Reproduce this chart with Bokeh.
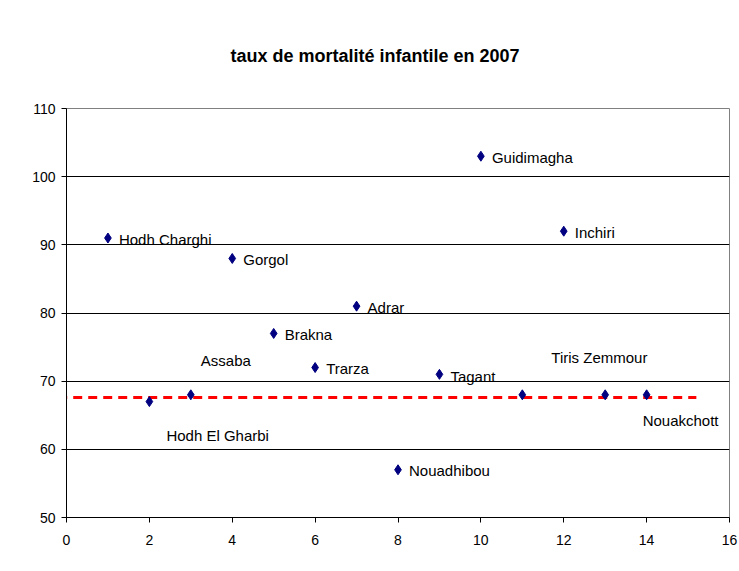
from bokeh.plotting import figure
from bokeh.models import ColumnDataSource, Range1d, FixedTicker
from bokeh.embed import file_html
from bokeh.resources import INLINE

# ---- data ----
region_index = [1, 2, 3, 4, 5, 6, 7, 8, 9, 10, 11, 12, 13, 14]
mortality = [91, 67, 68, 88, 77, 72, 81, 57, 71, 103, 68, 92, 68, 68]
region_names = ["Hodh Charghi", "Hodh El Gharbi", "Assaba", "Gorgol", "Brakna",
                "Trarza", "Adrar", "Nouadhibou", "Tagant", "Guidimagha",
                "Tiris Zemmour", "Inchiri", "", "Nouakchott"]
average_rate = 67.6
x_ticks = [0, 2, 4, 6, 8, 10, 12, 14, 16]
y_ticks = [50, 60, 70, 80, 90, 100, 110]
title_text = "taux de mortalité infantile en 2007"

# label placement offsets (pixels) - styling only
label_dx = [11, 17, 10, 11, 11, 11, 11, 11, 11, 11, 29, 11, 11, -4]
label_dy = [1, 34, -34, 1, 1, 1, 1, 1, 2, 1, -37, 1, 1, 26]

FONT = "Liberation Sans"

p = figure(width=739, height=571, output_backend="svg", toolbar_location=None,
           x_range=Range1d(x_ticks[0], x_ticks[-1]),
           y_range=Range1d(y_ticks[0], y_ticks[-1]),
           min_border_left=66, min_border_right=10,
           min_border_top=108, min_border_bottom=54)

p.background_fill_color = "white"
p.border_fill_color = "white"
p.outline_line_color = "#808080"
p.outline_line_width = 1

# title
p.title.text = title_text
p.title.text_font = FONT
p.title.text_font_size = "18px"
p.title.text_font_style = "bold"
p.title.text_color = "black"
p.title.align = "left"
p.title.offset = 164
p.title.standoff = 85

# grid
p.xgrid.grid_line_color = None
p.ygrid.grid_line_color = "black"
p.ygrid.grid_line_width = 1
p.ygrid.ticker = FixedTicker(ticks=y_ticks)

# axes
for ax in (p.xaxis, p.yaxis):
    ax.axis_line_color = "black"
    ax.axis_line_width = 1
    ax.major_tick_line_color = "black"
    ax.major_tick_out = 5
    ax.major_tick_in = 0
    ax.minor_tick_line_color = None
    ax.major_label_text_font = FONT
    ax.major_label_text_font_size = "14px"
    ax.major_label_text_color = "black"
p.xaxis.ticker = FixedTicker(ticks=x_ticks)
p.yaxis.ticker = FixedTicker(ticks=y_ticks)
p.xaxis.major_label_standoff = 12
p.yaxis.major_label_standoff = 6

# average dashed line
p.line(x=[region_index[0] - 1.2, region_index[-1] + 1.2],
       y=[average_rate, average_rate],
       line_color="#ff0000", line_width=3, line_dash="9 6")

src = ColumnDataSource(dict(x=region_index, y=mortality, name=region_names,
                            dx=label_dx, dy=label_dy))

p.scatter(x="x", y="y", source=src, marker="diamond", size=10,
          fill_color="#000080", line_color="#000080")

p.text(x="x", y="y", text="name", source=src, x_offset="dx", y_offset="dy",
       text_font={"value": FONT}, text_font_size={"value": "15px"},
       text_color="black", text_align="left", text_baseline="middle")

open("out.html", "w").write(file_html(p, INLINE))
